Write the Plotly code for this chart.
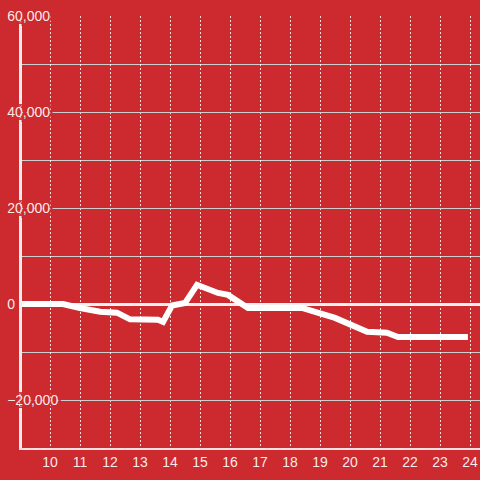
import plotly.graph_objects as go

# hour of day vs running balance
hours = [9.0, 10.43, 11.0, 11.67, 12.23, 12.67, 13.6, 13.77, 14.07, 14.5,
         14.9, 15.6, 15.93, 16.6, 18.4, 19.1, 19.5, 20.57, 21.23, 21.6, 23.93]
balance = [0, 0, -830, -1600, -1800, -3200, -3300, -3750, -300, 200,
           4000, 2300, 1900, -830, -830, -2300, -2900, -5800, -6000, -6900, -6900]

bg = "#cc2a2e"
label_color = "rgba(255,255,255,0.92)"
shadow = ", ".join(f"{dx}px {dy}px 0 {bg}" for dx, dy in
                   [(3, 0), (-3, 0), (0, 3), (0, -3), (3, 3), (-3, -3), (3, -3), (-3, 3)])

fig = go.Figure()
fig.add_trace(go.Scatter(
    x=hours,
    y=balance,
    mode="lines",
    line={"color": "white", "width": 6},
    showlegend=False,
    hoverinfo="skip"
))

fig.update_layout(
    width=480,
    height=480,
    margin={"l": 22, "r": 0, "t": 16, "b": 32},
    paper_bgcolor=bg,
    plot_bgcolor=bg,
    font={"family": "Liberation Sans, Arial, sans-serif", "size": 14, "color": label_color},
    xaxis={
        "range": [9.0667, 24.333],
        "tick0": 10,
        "dtick": 1,
        "showgrid": True,
        "gridcolor": "rgba(255,255,255,0.85)",
        "griddash": "2px,2px",
        "gridwidth": 1,
        "showline": True,
        "linecolor": "rgba(240,235,235,0.95)",
        "linewidth": 2,
        "zeroline": False,
        "ticks": "",
        "tickfont": {"size": 14, "color": label_color},
    },
    yaxis={
        "range": [-30000, 60000],
        "tick0": 0,
        "dtick": 20000,
        "tickformat": ",d",
        "showgrid": True,
        "gridcolor": "#cfcfcf",
        "gridwidth": 1,
        "minor": {"dtick": 10000, "showgrid": True, "gridcolor": "#cfcfcf", "gridwidth": 1},
        "zeroline": True,
        "zerolinecolor": "#f4f0f0",
        "zerolinewidth": 3,
        "showline": True,
        "linecolor": "#f2eded",
        "linewidth": 3,
        "ticks": "",
        "ticklabelposition": "inside",
        "ticklabeloverflow": "allow",
        "ticklabelstandoff": -15,
        "tickfont": {"size": 14, "color": label_color, "shadow": shadow},
    },
)

# drop the default page margin so the chart sits at the window's top-left
fig.write_html("out.html", config={"displayModeBar": False},
               post_script="document.body.style.margin='0';")
